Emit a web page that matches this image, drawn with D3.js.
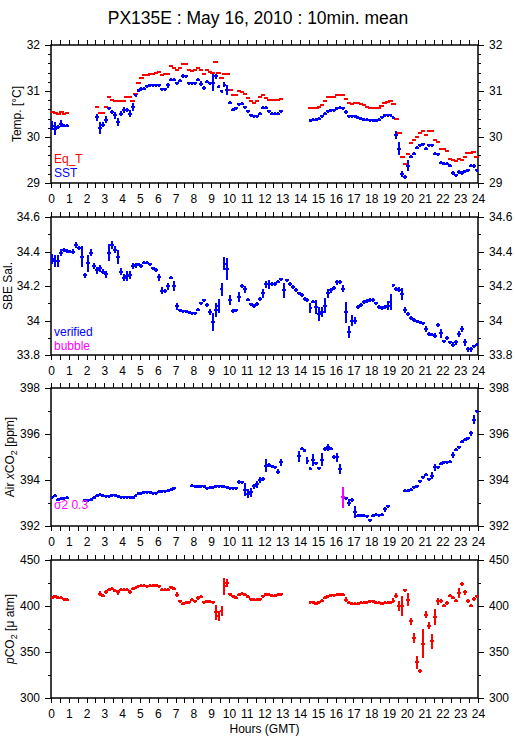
<!DOCTYPE html>
<html lang="en">
<head>
<meta charset="utf-8">
<title>PX135E : May 16, 2010 : 10min. mean</title>
<script src="https://d3js.org/d3.v7.min.js"></script>
<style>
  body { margin: 0; background: #fff; }
  text { font-family: "Liberation Sans", Arial, Helvetica, sans-serif; }
</style>
</head>
<body>
<script>
// 10 minute means, one value per 10 min slot (144 slots), null = no data
var _ = null;

var sstVal = [
  30.25, 30.18, 30.22, 30.29, 30.24, 30.25, _, _, _, _, _, _,
  _, _, _, 30.43, 30.20, 30.27, 30.38, 30.62, 30.54, 30.47, 30.33, 30.51,
  30.59, 30.59, 30.51, 30.65, 30.91, 31.01, 31.05, 31.05, 31.10, 31.12, 31.12, 31.12,
  31.12, 31.04, 31.04, 31.12, 31.25, 31.25, 31.17, 31.22, 31.32, 31.32, 31.17, 31.17,
  31.17, 31.25, 31.16, 31.07, 31.20, 31.17, 31.18, 31.32, 31.09, 31.00, 31.14, 31.03,
  30.74, 30.59, 30.62, 30.71, 30.72, 30.65, 30.56, 30.47, 30.45, 30.45, 30.51, 30.64,
  30.64, 30.56, 30.51, 30.51, 30.51, 30.56, _, _, _, _, _, _,
  _, _, _, 30.35, 30.38, 30.38, 30.40, 30.45, 30.51, 30.56, 30.58, 30.58,
  30.62, 30.64, 30.62, 30.54, 30.45, 30.45, 30.45, 30.42, 30.40, 30.38, 30.38, 30.36,
  30.36, 30.35, 30.38, 30.43, 30.47, 30.47, 30.47, 30.42, 30.05, 29.75, 29.20, 29.13,
  29.38, 29.57, 29.64, 29.77, 29.82, 29.84, 29.75, 29.82, 29.82, 29.64, 29.62, 29.44,
  29.42, 29.42, 29.37, 29.22, 29.17, 29.24, 29.22, 29.26, 29.28, 29.38, 29.37, 29.28
];
var sstSd = [
  .09, .14, .04, .07, .03, .02, _, _, _, _, _, _,
  _, _, _, .08, .13, .06, .07, .04, .04, .08, .08, .06,
  .07, .05, .07, .08, .03, .04, .04, .03, .03, .03, .02, .02,
  .03, .02, .02, .05, .02, .02, .02, .02, .04, .03, .02, .02,
  .02, .03, .05, .04, .03, .03, .18, .05, .03, .02, .05, .11,
  .02, .02, .02, .02, .02, .03, .02, .01, .01, .01, .02, .03,
  .02, .02, .01, .01, .01, .02, _, _, _, _, _, _,
  _, _, _, .02, .02, .02, .02, .03, .02, .02, .02, .02,
  .02, .02, .02, .04, .02, .02, .02, .02, .02, .02, .02, .02,
  .02, .02, .02, .02, .02, .02, .02, .02, .09, .14, .07, .05,
  .11, .03, .02, .02, .02, .03, .03, .03, .03, .02, .02, .02,
  .02, .02, .03, .04, .02, .04, .04, .03, .02, .03, .04, .03
];
var eqtVal = [
  30.54, 30.52, 30.49, 30.55, 30.51, 30.52, _, _, _, _, _, _,
  _, _, _, 30.65, 30.53, 30.53, 30.65, 30.87, 30.81, 30.78, 30.78, 30.78,
  30.78, 30.88, 30.87, 30.78, 30.94, 31.18, 31.29, 31.34, 31.34, 31.36, 31.36, 31.39,
  31.41, 31.34, 31.36, 31.38, 31.54, 31.51, 31.46, 31.50, 31.59, 31.59, 31.45, 31.43,
  31.45, 31.51, 31.46, 31.38, 31.45, 31.42, 31.39, 31.62, 31.39, 31.28, 31.36, 31.38,
  31.03, 30.91, 30.91, 31.01, 30.98, 30.93, 30.85, 30.78, 30.74, 30.78, 30.87, 30.92,
  30.85, 30.80, 30.80, 30.80, 30.80, 30.83, _, _, _, _, _, _,
  _, _, _, 30.62, 30.64, 30.64, 30.65, 30.69, 30.78, 30.86, 30.86, 30.88,
  30.92, 30.92, 30.92, 30.83, 30.75, 30.72, 30.75, 30.75, 30.71, 30.69, 30.65, 30.64,
  30.64, 30.64, 30.64, 30.67, 30.74, 30.76, 30.78, 30.72, 30.40, 30.09, 29.57, 29.42,
  29.64, 29.86, 29.93, 30.01, 30.09, 30.14, 30.04, 30.12, 30.12, 29.94, 29.89, 29.75,
  29.73, 29.69, 29.53, 29.50, 29.47, 29.53, 29.51, 29.57, 29.66, 29.66, 29.67, 29.57
];
var salVal = [
  34.355, 34.347, 34.347, 34.394, 34.409, 34.403, 34.400, 34.400, 34.438, 34.419, 34.370, 34.263,
  34.331, 34.394, 34.316, 34.292, 34.302, 34.283, 34.269, 34.394, 34.438, 34.409, 34.370, 34.283,
  34.248, 34.257, 34.263, 34.316, 34.320, 34.326, 34.316, 34.335, 34.335, 34.326, 34.302, 34.292,
  34.250, 34.172, 34.172, 34.199, 34.248, 34.199, 34.082, 34.059, 34.055, 34.053, 34.047, 34.043,
  34.043, 34.063, 34.100, 34.117, 34.090, 34.049, 33.991, 34.063, 34.082, 34.180, 34.330, 34.300,
  34.117, 34.055, 34.059, 34.137, 34.199, 34.180, 34.121, 34.094, 34.085, 34.096, 34.125, 34.158,
  34.209, 34.209, 34.212, 34.212, 34.226, 34.238, 34.174, 34.232, 34.212, 34.193, 34.178, 34.158,
  34.148, 34.125, 34.119, 34.073, 34.110, 34.077, 34.038, 34.048, 34.086, 34.158, 34.174, 34.189,
  34.222, 34.222, 34.183, 34.048, 33.931, 33.999, 33.999, 34.077, 34.090, 34.106, 34.112, 34.119,
  34.119, 34.100, 34.077, 34.073, 34.077, 34.086, 34.106, 34.203, 34.183, 34.178, 34.154, 34.061,
  34.038, 34.015, 34.003, 33.995, 33.990, 33.984, 33.951, 33.922, 33.918, 33.912, 33.974, 33.926,
  33.879, 33.898, 33.873, 33.860, 33.873, 33.922, 33.951, 33.873, 33.834, 33.834, 33.850, 33.860
];
var salSd = [
  .030, .035, .035, .020, .010, .010, .010, .015, .015, .010, .060, .015,
  .050, .020, .020, .020, .020, .015, .020, .050, .025, .020, .040, .020,
  .020, .030, .025, .020, .015, .010, .010, .010, .010, .010, .010, .010,
  .020, .020, .010, .020, .010, .030, .020, .010, .005, .005, .005, .005,
  .005, .010, .010, .010, .010, .020, .050, .040, .040, .040, .040, .065,
  .030, .010, .010, .030, .010, .020, .010, .010, .010, .010, .010, .025,
  .020, .025, .010, .010, .010, .010, .045, .010, .010, .010, .010, .010,
  .010, .010, .010, .030, .010, .040, .040, .030, .045, .025, .015, .010,
  .015, .010, .020, .060, .035, .030, .020, .010, .010, .010, .010, .010,
  .010, .010, .010, .010, .010, .025, .045, .010, .010, .015, .035, .015,
  .010, .010, .010, .010, .010, .010, .015, .010, .010, .015, .010, .025,
  .010, .010, .010, .015, .015, .020, .020, .020, .015, .015, .010, .010
];
var xco2Val = [
  393.25, 393.32, 393.14, 393.18, 393.20, 393.22, _, _, _, _, _, 393.12,
  393.12, 393.14, 393.22, 393.32, 393.36, 393.32, 393.29, 393.29, 393.33, 393.33, 393.29, 393.26,
  393.26, 393.26, 393.25, 393.23, 393.32, 393.41, 393.43, 393.46, 393.46, 393.46, 393.43, 393.43,
  393.48, 393.51, 393.52, 393.54, 393.58, 393.65, _, _, _, _, _, 393.75,
  393.72, 393.70, 393.72, 393.72, 393.65, 393.67, 393.68, 393.72, 393.72, 393.72, 393.70, 393.68,
  393.65, 393.65, 393.65, 393.90, 393.90, 393.58, 393.41, 393.46, 393.72, 393.82, 394.00, 394.04,
  394.62, 394.65, 394.59, 394.55, 394.36, 394.77, _, _, _, _, _, 395.03,
  395.35, 395.28, 394.84, 394.48, 394.88, 394.72, 394.51, 394.88, 395.35, 395.42, 395.35, 394.99,
  394.99, 394.48, 393.24, 393.20, 393.02, 393.12, 392.61, 392.44, 392.47, 392.44, 392.42, 392.26,
  392.44, 392.48, 392.47, 392.48, 392.73, 392.85, _, _, _, _, _, 393.53,
  393.53, 393.57, 393.68, 393.72, 393.94, 394.11, 394.22, 394.04, 394.19, 394.55, 394.55, 394.70,
  394.77, 394.77, 394.80, 395.09, 395.31, 395.42, 395.67, 395.76, 395.82, 396.03, 396.63, 396.98
];
var xco2Sd = [
  .05, .05, .04, .04, .03, .03, _, _, _, _, _, .03,
  .03, .03, .03, .03, .03, .03, .03, .03, .03, .03, .03, .03,
  .03, .03, .03, .03, .03, .03, .03, .03, .03, .03, .03, .03,
  .03, .03, .03, .03, .03, .04, _, _, _, _, _, .03,
  .03, .03, .03, .03, .03, .03, .03, .03, .03, .03, .03, .03,
  .03, .03, .03, .08, .04, .28, .18, .20, .10, .15, .15, .08,
  .28, .08, .06, .05, .12, .15, _, _, _, _, _, .25,
  .06, .05, .15, .06, .25, .06, .05, .28, .08, .15, .06, .08,
  .20, .22, .44, .08, .15, .08, .25, .06, .04, .04, .04, .04,
  .04, .04, .04, .04, .10, .05, _, _, _, _, _, .04,
  .04, .04, .04, .04, .06, .04, .04, .04, .15, .15, .04, .04,
  .04, .04, .04, .12, .04, .04, .04, .04, .04, .10, .18, .08
];
var pco2Val = [
  408.7, 410.5, 408.7, 408.7, 407.6, 406.9, _, _, _, _, _, _,
  _, _, _, _, 413.4, 411.2, 414.9, 417.8, 418.5, 416.7, 414.9, 417.8,
  417.8, 417.8, 415.2, 418.5, 419.6, 421.4, 422.1, 422.1, 421.4, 422.1, 421.8, 422.5,
  421.4, 417.8, 417.8, 417.8, 420.3, 418.5, 412.3, 405.1, 402.5, 403.3, 404.3, 406.9,
  405.1, 408.7, 409.8, 404.0, 405.1, 404.7, 404.0, 393.1, 388.8, 394.2, 421.4, 425.0,
  413.0, 410.5, 408.7, 412.3, 413.4, 412.3, 409.8, 407.6, 406.9, 406.9, 407.6, 410.5,
  413.0, 412.3, 411.2, 411.2, 412.3, 413.0, _, _, _, _, _, _,
  _, _, _, 404.3, 404.0, 402.2, 404.0, 405.8, 408.7, 410.5, 411.6, 411.6,
  412.3, 413.0, 412.3, 406.9, 403.3, 402.2, 402.2, 402.5, 403.3, 403.3, 404.3, 405.1,
  405.1, 403.3, 403.3, 402.2, 403.3, 403.3, 404.3, 405.8, 411.2, 399.6, 400.4, 417.0,
  406.9, 383.3, 365.2, 338.8, 329.0, 359.1, 390.6, 378.6, 361.6, 388.0, 405.1, 405.1,
  400.4, 403.3, 411.2, 408.7, 405.8, 414.1, 423.9, 414.9, 405.1, 400.4, 407.6, 410.5
];
var pco2Sd = [
  1.5, 1.5, 1.5, 1.5, 1.5, 1.5, _, _, _, _, _, _,
  _, _, _, _, 2.5, 1.5, 2.0, 1.5, 1.5, 1.5, 3.0, 1.5,
  1.5, 1.5, 2.0, 1.5, 1.5, 1.5, 1.5, 1.5, 1.5, 1.5, 1.5, 1.5,
  1.5, 1.5, 1.5, 1.5, 1.5, 1.5, 2.5, 1.5, 1.5, 1.5, 1.5, 1.5,
  1.5, 2.0, 1.5, 1.5, 1.5, 1.5, 1.5, 8.0, 5.5, 5.5, 9.0, 4.0,
  1.5, 1.5, 1.5, 1.5, 1.5, 1.5, 1.5, 1.5, 1.5, 1.5, 1.5, 1.5,
  1.5, 1.5, 1.5, 1.5, 1.5, 1.5, _, _, _, _, _, _,
  _, _, _, 1.5, 1.5, 1.5, 1.5, 1.5, 1.5, 1.5, 1.5, 1.5,
  1.5, 1.5, 1.5, 3.0, 1.5, 1.5, 1.5, 1.5, 1.5, 1.5, 1.5, 1.5,
  1.5, 1.5, 1.5, 1.5, 1.5, 1.5, 1.5, 2.7, 2.5, 5.5, 11.0, 1.5,
  7.0, 3.5, 5.5, 7.0, 2.0, 16.0, 3.5, 3.5, 8.0, 9.0, 3.5, 2.0,
  1.5, 2.0, 1.5, 1.5, 1.0, 5.0, 2.0, 3.0, 2.0, 2.0, 2.0, 1.0
];

// axis ticks
var hourTicks = d3.range(0, 24.01, 0.5);
var tempTicks = [29, 30, 31, 32];
var salTicks = [33.8, 34, 34.2, 34.4, 34.6];
var xco2Ticks = [392, 394, 396, 398];
var pco2Ticks = [300, 350, 400, 450];

var w = 515, h = 739;
var left = 51, right = 478, panelH = 138;
var tops = [45, 217, 388, 560];

var svg = d3.select("body").append("svg")
  .attr("width", w).attr("height", h);

var x = d3.scaleLinear().domain([0, 24]).range([left, right]);

function slotHour(i) { return (i + 0.5) / 6; }

function points(vals, sds) {
  return vals.map(function(v, i) {
    return { t: slotHour(i), v: v, s: sds ? sds[i] : 0 };
  }).filter(function(d) { return d.v !== null; });
}

// one panel: frame, 4 axes, returns y scale and group
function panel(k, domain, major, minor, fmt) {
  var top = tops[k], bottom = top + panelH;
  var y = d3.scaleLinear().domain(domain).range([bottom, top]);
  var g = svg.append("g");

  g.append("g").attr("transform", "translate(0," + bottom + ")")
    .call(d3.axisBottom(x).tickValues(hourTicks).tickSize(5).tickPadding(6)
      .tickFormat(function(d) { return d % 1 === 0 ? d : ""; }));
  g.append("g").attr("transform", "translate(0," + top + ")")
    .call(d3.axisTop(x).tickValues(hourTicks).tickSize(5).tickFormat(""));

  g.append("g").attr("transform", "translate(" + left + ",0)")
    .call(d3.axisLeft(y).tickValues(major).tickSize(6).tickPadding(5).tickFormat(fmt));
  g.append("g").attr("transform", "translate(" + left + ",0)")
    .call(d3.axisLeft(y).tickValues(minor).tickSize(3).tickFormat(""));
  g.append("g").attr("transform", "translate(" + right + ",0)")
    .call(d3.axisRight(y).tickValues(major).tickSize(6).tickPadding(5).tickFormat(fmt));
  g.append("g").attr("transform", "translate(" + right + ",0)")
    .call(d3.axisRight(y).tickValues(minor).tickSize(3).tickFormat(""));

  g.selectAll(".domain").remove();
  g.selectAll(".tick line").attr("stroke", "#000").attr("shape-rendering", "crispEdges");
  g.selectAll(".tick text").attr("font-size", 12)
    .attr("font-family", "'Liberation Sans', Arial, sans-serif").attr("fill", "#000");

  g.append("rect")
    .attr("x", left).attr("y", top)
    .attr("width", right - left).attr("height", panelH)
    .attr("fill", "none").attr("stroke", "#000").attr("stroke-width", 1.5);

  return { y: y, g: g, top: top, bottom: bottom };
}

function crosses(p, pts, color, hw) {
  var g = p.g.append("g").attr("stroke-width", 2).attr("shape-rendering", "crispEdges");
  var y = p.y;
  g.selectAll(null).data(pts).enter().append("line")
    .attr("x1", function(d) { return x(d.t - hw); })
    .attr("x2", function(d) { return x(d.t + hw); })
    .attr("y1", function(d) { return y(d.v); })
    .attr("y2", function(d) { return y(d.v); })
    .attr("stroke", color);
  g.selectAll(null).data(pts).enter().append("line")
    .attr("x1", function(d) { return x(d.t); })
    .attr("x2", function(d) { return x(d.t); })
    .attr("y1", function(d) { return Math.min(y(d.v + d.s), y(d.v) - 1.5); })
    .attr("y2", function(d) { return Math.max(y(d.v - d.s), y(d.v) + 1.5); })
    .attr("stroke", color);
}

function dashes(p, pts, color, hw) {
  p.g.append("g").attr("shape-rendering", "crispEdges")
    .selectAll(null).data(pts).enter().append("line")
    .attr("x1", function(d) { return x(d.t - hw); })
    .attr("x2", function(d) { return x(d.t + hw); })
    .attr("y1", function(d) { return p.y(d.v); })
    .attr("y2", function(d) { return p.y(d.v); })
    .attr("stroke", color).attr("stroke-width", 2);
}

function ylabel(p, bx, parts) {
  var t = svg.append("text")
    .attr("transform", "translate(" + bx + "," + (p.top + panelH / 2) + ") rotate(-90)")
    .attr("text-anchor", "middle").attr("font-size", 12);
  parts.forEach(function(s) {
    var ts = t.append("tspan").text(s.text);
    if (s.italic) ts.attr("font-style", "italic");
    if (s.sub) ts.attr("font-size", 9).attr("dy", 3);
    if (s.after) ts.attr("dy", -3);
  });
}

function legend(p, lines) {
  lines.forEach(function(l) {
    svg.append("text").attr("x", 54).attr("y", l.y)
      .attr("font-size", 12).attr("fill", l.color).text(l.text);
  });
}

var fmt1 = function(d) { return +d.toFixed(1); };

// Panel 1: temperature
var p1 = panel(0, [29, 32], tempTicks, d3.range(29, 32.01, 0.2), fmt1);
dashes(p1, points(eqtVal), "#ff0000", 0.12);
crosses(p1, points(sstVal, sstSd), "#0000ff", 0.11);
ylabel(p1, 21, [{ text: "Temp. [°C]" }]);
legend(p1, [{ text: "Eq_T", color: "#ff0000", y: 163 }, { text: "SST", color: "#0000ff", y: 177 }]);

// Panel 2: salinity
var p2 = panel(1, [33.8, 34.6], salTicks, d3.range(33.8, 34.61, 0.1), fmt1);
crosses(p2, points(salVal, salSd), "#0000ff", 0.11);
ylabel(p2, 12, [{ text: "SBE Sal." }]);
legend(p2, [{ text: "verified", color: "#0000ff", y: 336 }, { text: "bubble", color: "#ff00ff", y: 350 }]);

// Panel 3: atmospheric xCO2, sigma >= 0.3 in magenta
var p3 = panel(2, [392, 398], xco2Ticks, d3.range(392, 398.01, 1), fmt1);
var xPts = points(xco2Val, xco2Sd);
crosses(p3, xPts.filter(function(d) { return d.s < 0.3; }), "#0000ff", 0.11);
crosses(p3, xPts.filter(function(d) { return d.s >= 0.3; }), "#ff00ff", 0.11);
ylabel(p3, 14, [{ text: "Air " }, { text: "x", italic: true }, { text: "CO" },
  { text: "2", sub: true }, { text: " [ppm]", after: true }]);
legend(p3, [{ text: "σ2 0.3", color: "#ff00ff", y: 509 }]);

// Panel 4: seawater pCO2
var p4 = panel(3, [300, 450], pco2Ticks, d3.range(300, 450.1, 25), fmt1);
crosses(p4, points(pco2Val, pco2Sd), "#ff0000", 0.11);
ylabel(p4, 14, [{ text: "p", italic: true }, { text: "CO" },
  { text: "2", sub: true }, { text: " [μ atm]", after: true }]);

// title and x label
svg.append("text").attr("x", 258).attr("y", 24).attr("text-anchor", "middle")
  .attr("font-size", 17.5).text("PX135E : May 16, 2010 : 10min. mean");
svg.append("text").attr("x", (left + right) / 2).attr("y", 733).attr("text-anchor", "middle")
  .attr("font-size", 12).text("Hours (GMT)");
</script>
</body>
</html>
